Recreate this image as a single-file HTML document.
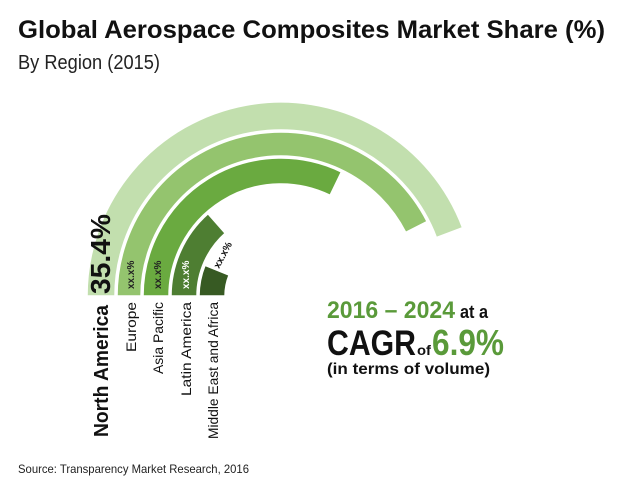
<!DOCTYPE html>
<html><head><meta charset="utf-8"><style>
html,body{margin:0;padding:0;background:#fff;}
svg{display:block;font-family:"Liberation Sans",Arial,sans-serif;}
</style></head><body>
<svg width="620" height="499" viewBox="0 0 620 499" xmlns="http://www.w3.org/2000/svg">
<rect width="620" height="499" fill="#fff"/>
<text x="18" y="38" font-size="25" font-weight="bold" fill="#111" textLength="587" lengthAdjust="spacingAndGlyphs">Global Aerospace Composites Market Share (%)</text>
<text x="18" y="69" font-size="20" fill="#222" textLength="142" lengthAdjust="spacingAndGlyphs">By Region (2015)</text>
<g stroke="#fff" stroke-width="1.5">
<path d="M87 296 A194 194 0 0 1 462.6 227.7 L436.4 237.6 A166 166 0 0 0 115 296 Z" fill="#c2dfae"/>
<path d="M117 296 A164 164 0 0 1 427.1 221.5 L405.7 232.4 A140 140 0 0 0 141 296 Z" fill="#94c46e"/>
<path d="M143 296 A138 138 0 0 1 341.4 171.9 L330.1 195.3 A112 112 0 0 0 169 296 Z" fill="#6aaa40"/>
<path d="M171 296 A110 110 0 0 1 208 213.7 L225.2 233.2 A84 84 0 0 0 197 296 Z" fill="#4e7e32"/>
<path d="M199 296 A82 82 0 0 1 205 265.3 L229.1 275 A56 56 0 0 0 225 296 Z" fill="#375a23"/>
</g>
<text transform="translate(110,294) rotate(-90)" font-size="28" font-weight="bold" fill="#111" textLength="80" lengthAdjust="spacingAndGlyphs">35.4%</text>
<text transform="translate(134,289) rotate(-90)" font-size="10" font-weight="bold" fill="#222">xx.x%</text>
<text transform="translate(161,289) rotate(-90)" font-size="10" font-weight="bold" fill="#222">xx.x%</text>
<text transform="translate(189,289) rotate(-90)" font-size="10" font-weight="bold" fill="#fff">xx.x%</text>
<text transform="translate(219,269) rotate(-62)" font-size="10" font-weight="bold" fill="#111">xx.x%</text>
<text transform="translate(108,437) rotate(-90)" font-size="20" font-weight="bold" fill="#111" textLength="132" lengthAdjust="spacingAndGlyphs">North America</text>
<text transform="translate(136,352) rotate(-90)" font-size="14" fill="#111" textLength="50" lengthAdjust="spacingAndGlyphs">Europe</text>
<text transform="translate(163,374) rotate(-90)" font-size="14" fill="#111" textLength="72" lengthAdjust="spacingAndGlyphs">Asia Pacific</text>
<text transform="translate(191,396) rotate(-90)" font-size="14" fill="#111" textLength="94" lengthAdjust="spacingAndGlyphs">Latin America</text>
<text transform="translate(218,439) rotate(-90)" font-size="14" fill="#111" textLength="137" lengthAdjust="spacingAndGlyphs">Middle East and Africa</text>
<text x="327" y="318" font-size="24" font-weight="bold" fill="#5a9a3a" textLength="128" lengthAdjust="spacingAndGlyphs">2016 – 2024</text>
<text x="460" y="318" font-size="18" font-weight="bold" fill="#111" textLength="28" lengthAdjust="spacingAndGlyphs">at a</text>
<text x="327" y="355" font-size="35" font-weight="bold" fill="#111" textLength="89" lengthAdjust="spacingAndGlyphs">CAGR</text>
<text x="417" y="355" font-size="14" font-weight="bold" fill="#111" textLength="14" lengthAdjust="spacingAndGlyphs">of</text>
<text x="432" y="355" font-size="36" font-weight="bold" fill="#5a9a3a" textLength="72" lengthAdjust="spacingAndGlyphs">6.9%</text>
<text x="327" y="374" font-size="16" font-weight="bold" fill="#111" textLength="163" lengthAdjust="spacingAndGlyphs">(in terms of volume)</text>
<text x="18" y="473" font-size="12" fill="#222" textLength="231" lengthAdjust="spacingAndGlyphs">Source: Transparency Market Research, 2016</text>
</svg>
</body></html>
